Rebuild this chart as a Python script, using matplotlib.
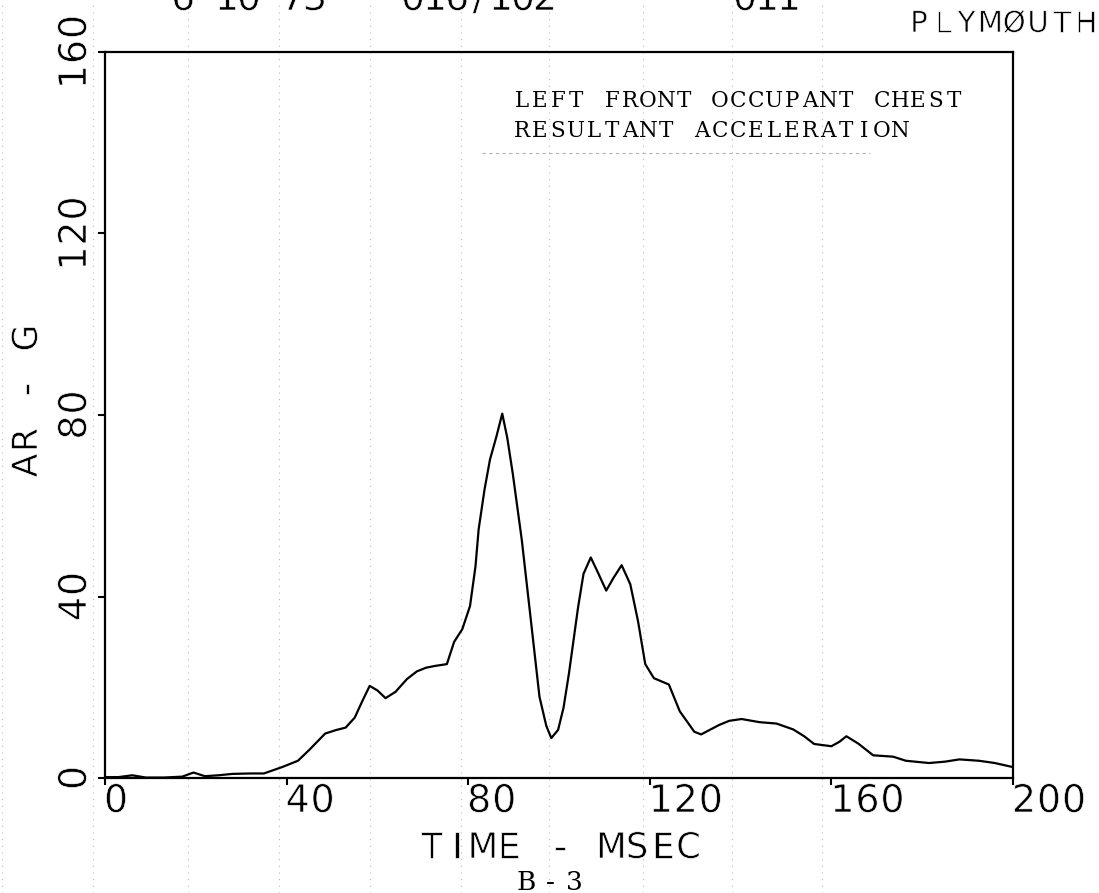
import matplotlib
matplotlib.use('Agg')
import matplotlib.pyplot as plt
import matplotlib.transforms as mtransforms
import matplotlib.patheffects as pe
from matplotlib.lines import Line2D

# chest resultant acceleration trace, left front occupant
time_ms = [0, 3, 6, 9, 13, 17, 19.5, 22, 25, 28, 32, 35, 39, 42.5, 45, 48.5,
           51, 53, 55, 56.7, 58.3, 60, 61.8, 64, 66.5, 68.7, 70.7, 72.7, 75.3,
           76.9, 78.7, 80.4, 81.6, 82.3, 83.6, 84.8, 86.2, 87.5, 88.6, 89.8,
           91.8, 93.8, 95.7, 97.2, 98.3, 99.8, 101, 102.2, 104.2, 105.4, 107,
           108.7, 110.4, 112, 113.8, 115.7, 117.4, 119, 120.9, 124.2, 126.6,
           129.8, 131.3, 133, 135.3, 137.5, 140.2, 144.2, 147.9, 151.6, 154,
           156.2, 160, 161.8, 163.3, 165.9, 169.2, 173.6, 176.4, 181.5, 185,
           188.2, 192.5, 196, 200]
accel_g = [0.2, 0.2, 0.6, 0.1, 0.1, 0.3, 1.2, 0.4, 0.6, 0.9, 1.0, 1.0, 2.4,
           3.8, 6.2, 9.8, 10.6, 11.1, 13.3, 17.0, 20.3, 19.3, 17.6, 19.0, 21.8,
           23.5, 24.3, 24.7, 25.1, 30.0, 32.8, 37.9, 46.6, 54.8, 63.6, 70.2,
           75.2, 80.3, 75.0, 67.2, 52.5, 34.8, 17.9, 11.5, 8.8, 10.6, 15.5,
           23.1, 37.6, 45.0, 48.6, 45.0, 41.3, 44.1, 46.9, 42.7, 34.6, 25.1,
           22.0, 20.6, 14.7, 10.2, 9.6, 10.5, 11.7, 12.6, 13.0, 12.3, 12.0,
           10.7, 9.2, 7.5, 7.0, 8.0, 9.2, 7.6, 5.0, 4.7, 3.8, 3.3, 3.6, 4.1,
           3.8, 3.3, 2.4]

x_ticks = [0, 40, 80, 120, 160, 200]
y_ticks = [0, 40, 80, 120, 160]
x_title = 'TIME - MSEC'
y_title = 'AR - G'
caption = ['LEFT FRONT OCCUPANT CHEST', 'RESULTANT ACCELERATION']
vehicle = 'PLYMØUTH'
header = ['6 10 73', '016/102', '011']
page = 'B-3'
paper_rules_ms = [-22.7, -2.6, 18.3, 38.4, 58.4, 78.5, 97.9, 118.6, 138, 158]

W, H = 1099, 893
fig = plt.figure(figsize=(W / 100, H / 100), dpi=100)
ax = fig.add_axes([105 / W, 1 - 778 / H, 908 / W, 726 / H])
ax.patch.set_visible(False)

# sheet pixels, origin top left
sheet = mtransforms.Affine2D().scale(1, -1).translate(0, H)
PEN = [pe.Stroke(linewidth=0.5, foreground='white')]


def pen_text(x, y, s, size, pitch, trans=sheet, rotation=0,
             family='DejaVu Sans', effects=PEN):
    # fixed pitch lettering, (x, y) = baseline centre of first character
    for i, ch in enumerate(s):
        if ch == ' ':
            continue
        if rotation:
            off = mtransforms.Affine2D().translate(0, i * pitch)
        else:
            off = mtransforms.Affine2D().translate(i * pitch, 0)
        fig.text(x, y, ch, transform=trans + off, rotation=rotation,
                 rotation_mode='anchor', ha='center', va='baseline',
                 fontsize=size, family=family, color='black',
                 path_effects=effects)


# faint rulings of the paper
rule_tr = mtransforms.blended_transform_factory(ax.transData, fig.transFigure)
for t in paper_rules_ms:
    fig.add_artist(Line2D([t, t], [0, 1], transform=rule_tr, color='0.72',
                          lw=0.8, ls=(0, (1, 5)), zorder=-1))

ax.plot(time_ms, accel_g, color='black', lw=1.6, solid_joinstyle='round')

ax.set_xlim(0, 200)
ax.set_ylim(0, 160)
ax.set_xticks(x_ticks)
ax.set_yticks(y_ticks)
ax.tick_params(direction='out', length=5, width=1.5,
               labelbottom=False, labelleft=False)
for sp in ax.spines.values():
    sp.set_linewidth(1.6)

# tick labels, plotter style
xlab_tr = mtransforms.blended_transform_factory(ax.transData, sheet)
for t in x_ticks:
    pen_text(t, 812, str(t), 27.5, 25,
             trans=xlab_tr + mtransforms.Affine2D().translate(11, 0))

ylab_tr = mtransforms.blended_transform_factory(sheet, ax.transData)
for g in y_ticks:
    s = str(g)
    shift = -(len(s) - 1) / 2 * 25
    pen_text(86, g, s, 27.5, 25, rotation=90,
             trans=ylab_tr + mtransforms.Affine2D().translate(0, shift))

pen_text(431.5, 858, x_title, 25.5, 25.7)
pen_text(37, 465.5, y_title, 25, 25.5, rotation=90)
pen_text(919, 32, vehicle, 21, 23.8)

# run header, mostly off the top of the sheet
pen_text(183, 10, header[0], 27.5, 22)
pen_text(413, 10, header[1], 27.5, 22)
pen_text(745, 10, header[2], 27.5, 22)

# typed caption
pen_text(522, 107, caption[0], 15.5, 18, family='DejaVu Serif', effects=None)
pen_text(522, 137, caption[1], 15.5, 18, family='DejaVu Serif', effects=None)
fig.add_artist(Line2D([482, 870], [153, 153], transform=sheet, color='0.7',
                      lw=0.8, ls=(0, (3, 3))))

pen_text(526, 890, page, 19, 24, family='DejaVu Serif', effects=None)

fig.savefig('out.png', dpi=100)
